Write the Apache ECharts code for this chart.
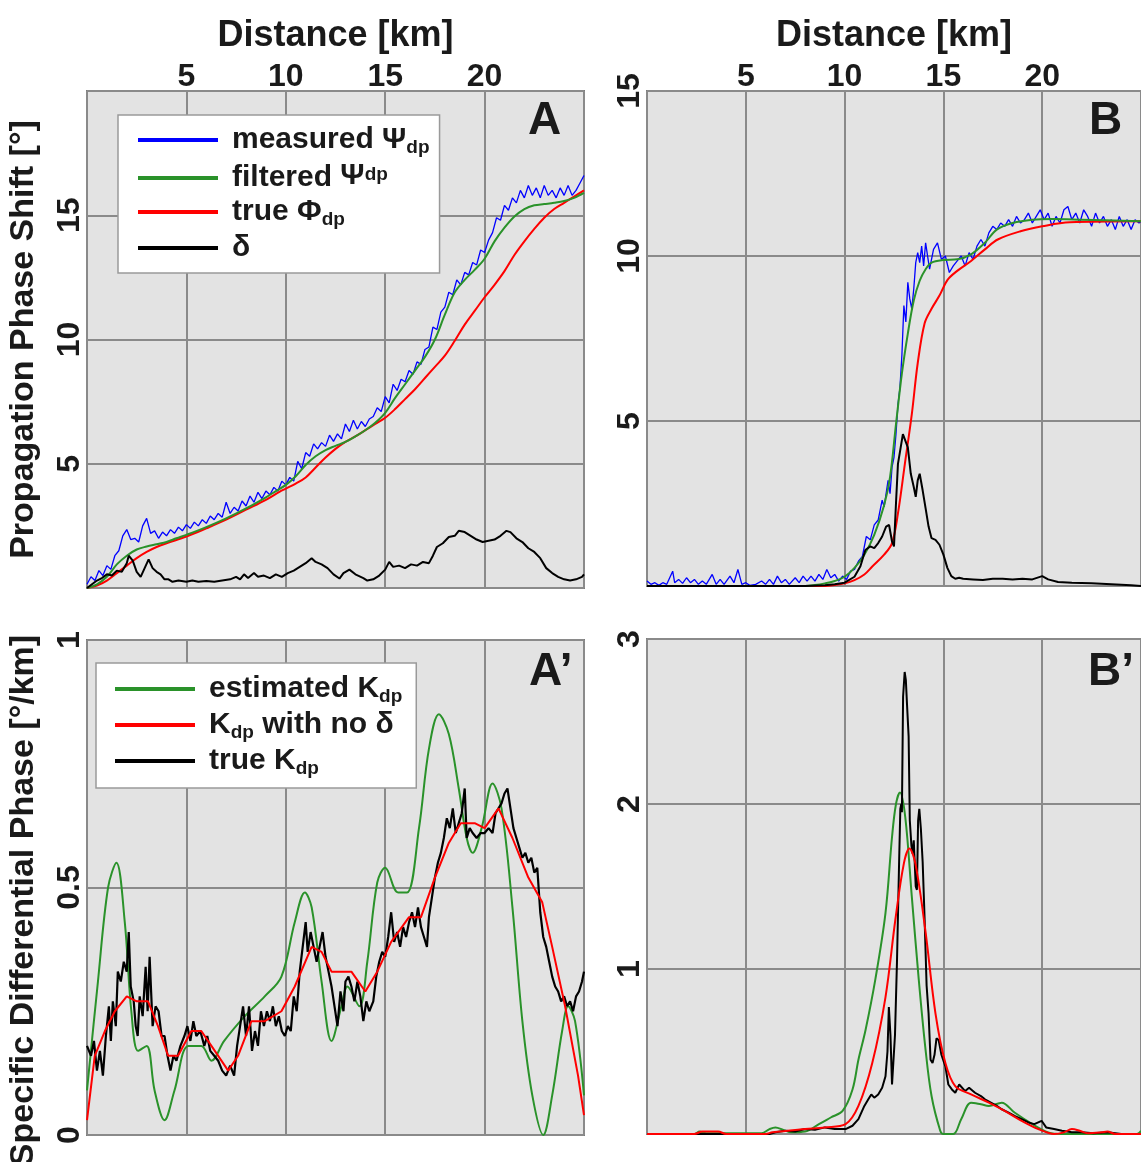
<!DOCTYPE html>
<html><head><meta charset="utf-8">
<script src="https://cdn.jsdelivr.net/npm/echarts@6/dist/echarts.min.js"></script>
<style>html,body{margin:0;padding:0;background:#fff}#c{width:1141px;height:1162px}</style>
</head><body><div id="c"></div>
<script>
// ---------- Panel A (Ψdp, Φdp, δ) ----------
const aMeasured = [[0,0.15],[0.2,0.45],[0.4,0.3],[0.6,0.7],[0.8,0.5],[1,0.9],[1.2,0.75],[1.4,1.3],[1.6,1.5],[1.8,2.1],[2,2.35],[2.2,1.95],[2.4,2.0],[2.6,1.85],[2.8,2.5],[3,2.8],[3.2,2.2],[3.4,2.3],[3.6,2.0],[3.8,2.25],[4,2.1],[4.2,2.35],[4.4,2.2],[4.6,2.45],[4.8,2.3],[5,2.55],[5.2,2.4],[5.4,2.65],[5.6,2.5],[5.8,2.75],[6,2.6],[6.2,2.9],[6.4,2.75],[6.6,3.0],[6.8,2.85],[7,3.45],[7.2,3.0],[7.4,3.25],[7.6,3.1],[7.8,3.5],[8,3.3],[8.2,3.7],[8.4,3.45],[8.6,3.85],[8.8,3.6],[9,3.9],[9.2,3.75],[9.4,4.05],[9.6,3.9],[9.8,4.3],[10,4.15],[10.2,4.45],[10.4,4.3],[10.6,5.1],[10.8,4.8],[11,5.45],[11.2,5.3],[11.4,5.8],[11.6,5.6],[11.8,5.85],[12,5.7],[12.2,6.15],[12.4,5.9],[12.6,6.2],[12.8,6.0],[13,6.6],[13.2,6.3],[13.4,6.75],[13.6,6.4],[13.8,6.7],[14,6.5],[14.2,6.8],[14.4,6.9],[14.6,7.25],[14.8,7.1],[15,7.7],[15.2,7.45],[15.4,8.2],[15.6,7.95],[15.8,8.4],[16,8.3],[16.2,8.75],[16.4,8.6],[16.6,9.1],[16.8,9.0],[17,9.6],[17.2,9.7],[17.4,10.5],[17.6,10.4],[17.8,11.1],[18,11.3],[18.2,11.9],[18.4,11.8],[18.6,12.4],[18.8,12.2],[19,12.7],[19.2,12.6],[19.4,13.1],[19.6,13.0],[19.8,13.6],[20,13.5],[20.2,14.0],[20.4,14.3],[20.6,14.9],[20.8,14.8],[21,15.4],[21.2,15.2],[21.4,15.7],[21.6,15.5],[21.8,16.0],[22,15.7],[22.2,16.2],[22.4,15.8],[22.6,16.1],[22.8,15.7],[23,16.2],[23.2,15.8],[23.4,16.0],[23.6,15.7],[23.8,16.1],[24,15.8],[24.2,16.2],[24.4,15.8],[24.6,16.0],[24.8,16.3],[25,16.6]];
const aFiltered = [[0,0],[0.5,0.15],[1,0.45],[1.5,0.95],[2,1.3],[2.5,1.55],[3,1.67],[3.5,1.76],[4,1.85],[4.5,2.0],[5,2.14],[6,2.45],[7,2.8],[8,3.2],[9,3.65],[9.5,3.9],[10,4.15],[10.5,4.5],[11,4.95],[11.5,5.3],[12,5.55],[12.5,5.72],[13,5.88],[13.5,6.1],[14,6.35],[14.5,6.65],[15,7.05],[15.5,7.65],[16,8.2],[16.5,8.75],[17,9.3],[17.5,10.0],[18,11.0],[18.5,11.9],[19,12.4],[19.5,12.8],[20,13.25],[20.5,13.95],[21,14.5],[21.5,14.95],[22,15.25],[22.5,15.4],[23,15.45],[23.5,15.5],[24,15.57],[24.5,15.7],[25,15.9]];
const aTrue = [[0,0],[0.5,0.1],[1,0.3],[1.5,0.6],[2,0.9],[2.5,1.2],[3,1.45],[3.5,1.65],[4,1.8],[5,2.07],[6,2.4],[7,2.75],[8,3.15],[9,3.55],[9.7,3.88],[10,4.0],[10.5,4.2],[11,4.45],[11.5,4.85],[12,5.25],[12.5,5.6],[13,5.88],[13.5,6.1],[14,6.35],[14.5,6.6],[15,6.85],[15.5,7.2],[16,7.6],[16.5,8.0],[17,8.45],[17.5,8.9],[18,9.35],[18.5,9.95],[19,10.6],[19.5,11.15],[20,11.7],[20.5,12.2],[21,12.75],[21.5,13.4],[22,13.95],[22.5,14.45],[23,14.9],[23.5,15.25],[24,15.5],[24.5,15.75],[25,16.0]];
const aDelta = [[0,0],[0.25,0.15],[0.5,0.3],[0.75,0.4],[1,0.55],[1.25,0.5],[1.5,0.7],[1.75,0.65],[2,1.0],[2.1,1.3],[2.3,1.1],[2.5,0.65],[2.7,0.45],[2.9,0.8],[3,0.75],[3.1,1.15],[3.3,0.8],[3.5,0.65],[3.7,0.55],[3.9,0.35],[4.1,0.35],[4.3,0.25],[4.6,0.3],[5,0.25],[5.3,0.3],[5.6,0.25],[6,0.28],[6.4,0.25],[6.8,0.3],[7.2,0.35],[7.5,0.45],[7.7,0.35],[7.9,0.55],[8.1,0.4],[8.4,0.6],[8.6,0.45],[8.9,0.5],[9.2,0.4],[9.5,0.55],[9.8,0.45],[10.1,0.6],[10.4,0.7],[10.7,0.85],[11,1.0],[11.3,1.2],[11.5,1.05],[11.8,0.95],[12.1,0.8],[12.4,0.55],[12.7,0.38],[12.9,0.6],[13.2,0.74],[13.5,0.55],[13.9,0.4],[14.1,0.3],[14.4,0.35],[14.7,0.5],[15,0.74],[15.2,1.05],[15.4,0.85],[15.7,0.9],[16,0.8],[16.3,0.95],[16.6,0.9],[16.9,1.05],[17.2,1.0],[17.4,1.3],[17.6,1.65],[17.9,1.8],[18.2,2.05],[18.5,2.1],[18.7,2.3],[19,2.25],[19.3,2.1],[19.6,1.95],[19.9,1.85],[20.2,1.9],[20.5,1.95],[20.8,2.1],[21.1,2.3],[21.3,2.25],[21.6,2.0],[21.9,1.85],[22.2,1.6],[22.5,1.45],[22.8,1.2],[23.1,0.8],[23.4,0.6],[23.7,0.45],[24,0.35],[24.3,0.3],[24.6,0.35],[24.9,0.45],[25,0.55]];

// ---------- Panel B ----------
const bMeasured = [[0,0.15],[0.2,0.05],[0.4,0.1],[0.6,0.02],[0.8,0.1],[1,0.05],[1.3,0.45],[1.4,0.1],[1.6,0.2],[1.8,0.08],[2,0.25],[2.2,0.1],[2.4,0.2],[2.6,0.05],[2.8,0.15],[3,0.05],[3.3,0.35],[3.5,0.05],[3.7,0.2],[3.9,0.05],[4.2,0.3],[4.4,0.1],[4.6,0.5],[4.8,0.05],[5,0.1],[5.2,0.02],[5.5,0.05],[5.8,0.15],[6,0.05],[6.2,0.2],[6.4,0.05],[6.6,0.3],[6.8,0.1],[7,0.2],[7.2,0.05],[7.5,0.25],[7.7,0.1],[7.9,0.3],[8.1,0.15],[8.3,0.3],[8.5,0.15],[8.7,0.35],[8.9,0.2],[9.1,0.5],[9.3,0.25],[9.5,0.35],[9.7,0.15],[9.9,0.3],[10.1,0.2],[10.3,0.45],[10.5,0.5],[10.7,0.75],[10.9,0.9],[11.1,1.5],[11.3,1.4],[11.5,1.85],[11.7,2.0],[11.9,2.6],[12,2.4],[12.2,3.2],[12.3,2.8],[12.4,3.6],[12.5,3.9],[12.6,4.6],[12.7,5.5],[12.8,6.0],[12.9,7.0],[13,8.5],[13.1,8.0],[13.2,9.2],[13.3,8.7],[13.4,8.4],[13.5,9.0],[13.6,9.8],[13.7,10.1],[13.8,9.8],[13.9,10.3],[14,9.7],[14.1,10.4],[14.3,9.6],[14.5,10.2],[14.7,10.4],[14.9,9.9],[15.1,10.0],[15.3,9.5],[15.5,9.7],[15.7,9.85],[15.9,10.0],[16.1,9.7],[16.3,10.1],[16.5,9.9],[16.7,10.3],[16.9,10.5],[17.1,10.3],[17.3,10.7],[17.5,10.9],[17.7,10.8],[17.9,11.0],[18.1,10.9],[18.3,11.1],[18.5,10.9],[18.7,11.2],[18.9,11.0],[19.1,11.1],[19.3,11.3],[19.5,11.0],[19.7,11.2],[19.9,11.4],[20.1,11.1],[20.3,11.3],[20.5,10.9],[20.7,11.2],[20.9,11.0],[21.1,11.4],[21.3,11.5],[21.5,11.1],[21.7,11.3],[21.9,11.0],[22.1,11.4],[22.3,11.2],[22.5,10.9],[22.7,11.3],[22.9,11.0],[23.1,11.2],[23.3,10.9],[23.5,11.1],[23.7,10.8],[23.9,11.2],[24.1,10.9],[24.3,11.1],[24.5,10.8],[24.7,11.1],[24.9,11.0],[25,11.05]];
const bFiltered = [[0,0],[8,0],[8.5,0.03],[9,0.08],[9.5,0.15],[10,0.28],[10.5,0.55],[11,0.95],[11.5,1.55],[12,2.45],[12.3,3.3],[12.6,4.9],[12.9,6.44],[13.2,7.65],[13.5,8.65],[13.8,9.25],[14.1,9.6],[14.4,9.8],[15,9.88],[15.7,9.9],[16.4,10.05],[17.1,10.4],[17.7,10.8],[18.5,11.0],[19.5,11.1],[20.5,11.12],[22,11.1],[25,11.05]];
const bTrue = [[0,0],[9,0],[9.5,0.03],[10,0.08],[10.5,0.18],[11,0.35],[11.4,0.59],[12,0.95],[12.4,1.3],[12.7,2.2],[13.05,3.7],[13.4,5.2],[13.7,6.75],[14.05,7.96],[14.4,8.4],[14.8,8.8],[15.2,9.27],[15.7,9.55],[16.4,9.85],[17.1,10.2],[17.75,10.5],[18.9,10.75],[20,10.9],[21.4,11.02],[25,11.05]];
const bDelta = [[0,0],[8,0],[9,0.02],[9.5,0.05],[10,0.1],[10.5,0.28],[10.8,0.6],[11.05,1.09],[11.3,1.2],[11.5,1.15],[11.7,1.3],[11.9,1.5],[12.1,1.8],[12.25,1.85],[12.4,1.35],[12.5,1.2],[12.6,2.5],[12.7,3.7],[12.8,3.7],[12.95,4.6],[13.05,4.65],[13.2,4.2],[13.35,3.4],[13.5,3.0],[13.6,2.7],[13.7,3.2],[13.8,3.4],[13.95,2.9],[14.1,2.35],[14.25,1.8],[14.4,1.45],[14.6,1.4],[14.8,1.25],[15,0.95],[15.2,0.55],[15.4,0.3],[15.6,0.22],[15.8,0.25],[16,0.22],[16.5,0.2],[17,0.18],[17.5,0.22],[18,0.22],[18.5,0.2],[19,0.22],[19.5,0.2],[20,0.3],[20.3,0.2],[20.8,0.12],[21.5,0.1],[22.5,0.08],[23.5,0.05],[24.5,0.02],[25,0]];

// ---------- Panel A' (Kdp) ----------
const apEstimated = [[0,0.09],[0.55,0.31],[1.06,0.5],[1.48,0.55],[1.9,0.43],[2.23,0.25],[2.57,0.17],[3.0,0.18],[3.4,0.09],[3.9,0.03],[4.4,0.09],[5.1,0.18],[5.75,0.18],[6.26,0.15],[6.9,0.19],[7.94,0.24],[8.94,0.28],[9.78,0.32],[10.45,0.43],[10.96,0.49],[11.3,0.46],[11.8,0.31],[12.3,0.19],[12.8,0.26],[13.1,0.3],[13.7,0.26],[14.1,0.35],[14.6,0.51],[15.0,0.54],[15.65,0.49],[16.1,0.49],[16.7,0.62],[17.2,0.78],[17.7,0.85],[18.2,0.81],[18.7,0.70],[19.1,0.60],[19.4,0.57],[19.85,0.62],[20.4,0.71],[20.85,0.66],[21.4,0.46],[21.9,0.23],[22.4,0.08],[22.95,0.0],[23.4,0.08],[23.9,0.21],[24.2,0.26],[24.55,0.23],[25,0.08]];
const apNoDelta = [[0,0.03],[0.39,0.16],[0.9,0.21],[1.4,0.25],[2.0,0.28],[2.5,0.27],[3.07,0.27],[3.57,0.22],[4.08,0.16],[4.58,0.16],[5.25,0.21],[5.75,0.21],[6.43,0.17],[7.1,0.13],[7.6,0.16],[8.27,0.23],[8.94,0.23],[9.78,0.25],[10.45,0.3],[11.3,0.38],[11.8,0.37],[12.3,0.33],[13.3,0.33],[14.0,0.29],[14.6,0.33],[15.3,0.39],[16.2,0.44],[16.8,0.44],[17.5,0.52],[18.2,0.59],[18.8,0.63],[19.5,0.63],[20.0,0.62],[20.7,0.66],[21.4,0.6],[22.2,0.52],[22.9,0.47],[23.4,0.38],[24.05,0.26],[24.7,0.12],[25,0.04]];
const apTrue = [[0,0.18],[0.2,0.16],[0.35,0.19],[0.5,0.13],[0.65,0.17],[0.8,0.12],[0.95,0.2],[1.1,0.26],[1.2,0.19],[1.3,0.27],[1.45,0.22],[1.55,0.33],[1.7,0.31],[1.85,0.35],[2,0.33],[2.1,0.41],[2.2,0.3],[2.35,0.27],[2.45,0.22],[2.55,0.2],[2.65,0.28],[2.8,0.24],[2.95,0.34],[3.05,0.25],[3.15,0.36],[3.3,0.22],[3.45,0.26],[3.6,0.25],[3.75,0.2],[3.9,0.2],[4.05,0.16],[4.2,0.13],[4.35,0.16],[4.5,0.15],[4.7,0.18],[4.9,0.2],[5.05,0.22],[5.2,0.19],[5.35,0.23],[5.5,0.2],[5.7,0.21],[5.9,0.18],[6.05,0.2],[6.2,0.17],[6.4,0.16],[6.6,0.15],[6.8,0.13],[7,0.12],[7.2,0.14],[7.4,0.12],[7.55,0.18],[7.7,0.22],[7.85,0.26],[8,0.2],[8.15,0.26],[8.3,0.17],[8.45,0.21],[8.6,0.18],[8.75,0.25],[8.9,0.22],[9.05,0.25],[9.2,0.23],[9.35,0.26],[9.5,0.22],[9.65,0.24],[9.8,0.21],[9.95,0.2],[10.1,0.22],[10.25,0.21],[10.4,0.28],[10.55,0.25],[10.7,0.33],[10.85,0.38],[11,0.43],[11.1,0.37],[11.25,0.41],[11.4,0.38],[11.55,0.35],[11.7,0.38],[11.85,0.41],[12,0.36],[12.15,0.33],[12.3,0.3],[12.45,0.26],[12.6,0.22],[12.75,0.29],[12.9,0.25],[13,0.31],[13.15,0.32],[13.3,0.3],[13.45,0.27],[13.6,0.31],[13.75,0.28],[13.9,0.23],[14.05,0.27],[14.2,0.25],[14.4,0.27],[14.55,0.32],[14.7,0.35],[14.85,0.37],[15,0.36],[15.15,0.4],[15.3,0.45],[15.45,0.39],[15.6,0.41],[15.75,0.38],[15.9,0.42],[16.05,0.4],[16.2,0.43],[16.35,0.45],[16.5,0.42],[16.65,0.46],[16.8,0.42],[16.95,0.4],[17.1,0.38],[17.2,0.44],[17.35,0.48],[17.5,0.52],[17.65,0.55],[17.8,0.57],[17.95,0.6],[18.1,0.64],[18.25,0.62],[18.4,0.66],[18.55,0.61],[18.7,0.63],[18.85,0.65],[19,0.7],[19.1,0.6],[19.25,0.62],[19.4,0.61],[19.6,0.6],[19.8,0.61],[20,0.61],[20.2,0.62],[20.4,0.61],[20.55,0.65],[20.7,0.66],[20.85,0.67],[21,0.69],[21.15,0.7],[21.3,0.66],[21.45,0.62],[21.6,0.6],[21.75,0.58],[21.9,0.56],[22.05,0.57],[22.2,0.55],[22.35,0.56],[22.5,0.53],[22.65,0.54],[22.8,0.45],[22.95,0.4],[23.1,0.38],[23.25,0.35],[23.4,0.32],[23.55,0.3],[23.7,0.29],[23.85,0.27],[24,0.28],[24.15,0.26],[24.3,0.27],[24.45,0.25],[24.6,0.28],[24.75,0.29],[24.9,0.31],[25,0.33]];

// ---------- Panel B' ----------
const bpEstimated = [[0,0],[2.4,0],[2.66,0.015],[3.0,0.005],[5.8,0.005],[6.2,0.03],[6.5,0.04],[6.9,0.025],[7.3,0.01],[8.0,0.015],[8.7,0.06],[9.3,0.1],[9.9,0.14],[10.4,0.27],[10.7,0.45],[11.06,0.63],[11.56,0.94],[12.07,1.34],[12.4,1.8],[12.6,2.0],[12.8,2.07],[13.07,1.92],[13.4,1.44],[13.75,0.94],[14.08,0.53],[14.4,0.23],[14.84,0.02],[15.0,0],[15.5,0],[15.9,0.09],[16.4,0.19],[16.9,0.18],[17.3,0.17],[17.95,0.19],[18.6,0.13],[19.5,0.06],[20.3,0.01],[21,0],[24.8,0],[25,0.02]];
const bpNoDelta = [[0,0],[2.4,0],[2.8,0.015],[3.6,0.015],[4.0,0],[6.0,0],[6.35,0.01],[8.0,0.03],[9.0,0.04],[10.05,0.06],[10.7,0.17],[11.4,0.43],[12.07,0.83],[12.57,1.3],[13.0,1.64],[13.28,1.73],[13.58,1.64],[14.08,1.24],[14.6,0.73],[15.1,0.43],[15.6,0.29],[16.4,0.24],[17.3,0.19],[18.1,0.14],[18.96,0.08],[19.8,0.03],[20.6,0],[21.1,0.01],[21.5,0.03],[21.9,0.02],[22.3,0.005],[23.0,0.01],[23.3,0.015],[23.7,0],[25,0]];
const bpTrue = [[0,0],[6.2,0],[6.5,0.01],[7,0.02],[7.5,0.015],[8,0.03],[8.5,0.025],[9,0.04],[9.5,0.03],[10.05,0.03],[10.4,0.05],[10.7,0.09],[11,0.17],[11.2,0.21],[11.35,0.24],[11.5,0.22],[11.7,0.24],[11.9,0.28],[12.07,0.35],[12.17,0.5],[12.24,0.77],[12.32,0.6],[12.4,0.3],[12.45,0.31],[12.55,0.6],[12.65,1.04],[12.75,1.6],[12.82,1.97],[12.87,2.0],[12.9,1.95],[12.96,2.65],[13.04,2.8],[13.1,2.75],[13.16,2.6],[13.24,2.41],[13.3,1.9],[13.38,1.75],[13.44,1.7],[13.5,1.78],[13.6,1.5],[13.66,1.48],[13.72,1.9],[13.78,1.97],[13.86,1.85],[13.95,1.65],[14.05,1.3],[14.15,0.9],[14.25,0.73],[14.35,0.45],[14.45,0.43],[14.55,0.48],[14.65,0.58],[14.76,0.57],[14.9,0.48],[15.1,0.41],[15.25,0.3],[15.43,0.27],[15.6,0.25],[15.8,0.3],[16.1,0.26],[16.3,0.28],[16.6,0.25],[16.9,0.23],[17.1,0.21],[17.4,0.19],[17.7,0.17],[17.95,0.15],[18.3,0.13],[18.6,0.11],[18.96,0.09],[19.3,0.07],[19.6,0.06],[19.97,0.08],[20.2,0.04],[20.6,0.03],[21,0.02],[21.5,0.01],[22,0.01],[22.6,0.005],[23.3,0.01],[24,0],[25,0]];

// ---------- Axis / legend texts ----------
const xTitle = 'Distance [km]';
const yTitleTop = 'Propagation Phase Shift [°]';
const yTitleBottom = 'Specific Differential Phase [°/km]';
const panelLetters = ['A', 'B', 'A’', 'B’'];
const legendTop = ['measured Ψdp', 'filtered Ψdp', 'true Φdp', 'δ'];
const legendBottom = ['estimated Kdp', 'Kdp with no δ', 'true Kdp'];

const FONT = '"Liberation Sans", Arial, Helvetica, sans-serif';
const TXT = '#1a1a1a';
const C_BLUE = '#0000ff', C_GREEN = '#2a922a', C_RED = '#ff0000', C_BLACK = '#000000';

const grids = [
  {left: 87, top: 91, width: 497, height: 497},
  {left: 647, top: 91, width: 494, height: 495},
  {left: 87, top: 640, width: 497, height: 495},
  {left: 647, top: 639, width: 494, height: 495}
].map(g => Object.assign(g, {show: true, backgroundColor: '#e3e3e3', borderColor: '#7a7a7a', borderWidth: 2,
  containLabel: false, outerBoundsMode: 'none'}));

const split = {show: true, lineStyle: {color: '#8a8a8a', width: 2}};
const tickLabel = {fontFamily: FONT, fontSize: 32, fontWeight: 'bold', color: TXT};

function xAxis(gi, top) {
  return {
    type: 'value', gridIndex: gi, min: 0, max: 25, interval: 5,
    position: 'top',
    axisLine: {show: false}, axisTick: {show: false}, splitLine: split,
    axisLabel: top ? Object.assign({show: true, margin: -2, showMinLabel: true, showMaxLabel: true,
      formatter: v => (v === 0 || v === 25) ? '' : String(v)}, tickLabel) : {show: false},
    name: top ? xTitle : '', nameLocation: 'middle', nameGap: 37,
    nameTextStyle: {fontFamily: FONT, fontSize: 36, fontWeight: 'bold', color: TXT}
  };
}
function yAxis(gi, max, interval, hide, name, namePad) {
  return {
    type: 'value', gridIndex: gi, min: 0, max: max, interval: interval,
    axisLine: {show: false}, axisTick: {show: false}, splitLine: split,
    axisLabel: Object.assign({show: true, rotate: 90, margin: 1, showMinLabel: true, showMaxLabel: true,
      formatter: v => hide.indexOf(v) >= 0 ? '' : String(v)}, tickLabel),
    name: name || '', nameLocation: 'middle', nameRotate: 90, nameGap: 46,
    nameTextStyle: {fontFamily: FONT, fontSize: 34, fontWeight: 'bold', color: TXT, padding: namePad || 0}
  };
}

function line(name, data, color, width, gi, smooth) {
  return {type: 'line', name: name, data: data, xAxisIndex: gi, yAxisIndex: gi,
    showSymbol: false, symbol: 'none', smooth: smooth ? 0.35 : false,
    lineStyle: {color: color, width: width}, itemStyle: {color: color}, z: 3};
}

const rich = {
  n: {fontFamily: FONT, fontSize: 30, fontWeight: 'bold', color: TXT, lineHeight: 34},
  s: {fontFamily: FONT, fontSize: 19, fontWeight: 'bold', color: TXT, lineHeight: 24, verticalAlign: 'bottom'},
  u: {fontFamily: FONT, fontSize: 30, fontWeight: 'bold', color: TXT, lineHeight: 22, verticalAlign: 'top'},
  us: {fontFamily: FONT, fontSize: 19, fontWeight: 'bold', color: TXT, lineHeight: 20, verticalAlign: 'top', padding: [4, 0, 0, 0]}
};
const legendFmt = {
  'measured Ψdp': '{n|measured Ψ}{s|dp}',
  'filtered Ψdp': '{n|filtered }{u|Ψ}{us|dp}',
  'true Φdp': '{n|true Φ}{s|dp}',
  'δ': '{n|δ}',
  'estimated Kdp': '{n|estimated K}{s|dp}',
  'Kdp with no δ': '{n|K}{s|dp}{n| with no δ}',
  'true Kdp': '{n|true K}{s|dp}'
};
function legend(data, left, top, pad) {
  return {
    data: data, orient: 'vertical', left: left, top: top, icon: 'rect',
    itemWidth: 80, itemHeight: 4, itemGap: 4, selectedMode: false,
    backgroundColor: '#ffffff', borderColor: '#9a9a9a', borderWidth: 1.5, borderRadius: 0,
    padding: pad,
    formatter: n => legendFmt[n] || n,
    textStyle: {rich: rich, padding: [0, 0, 0, 9], fontFamily: FONT, fontSize: 30, fontWeight: 'bold', color: TXT}
  };
}

const letterPos = [[528, 98], [1089, 98], [529, 649], [1088, 649]];
const titles = panelLetters.map((t, i) => ({
  text: t, left: letterPos[i][0], top: letterPos[i][1], padding: 0,
  textStyle: {fontFamily: FONT, fontSize: 46, fontWeight: 'bold', color: TXT}
}));

const option = {
  animation: false,
  backgroundColor: '#ffffff',
  title: titles,
  grid: grids,
  xAxis: [xAxis(0, true), xAxis(1, true), xAxis(2, false), xAxis(3, false)],
  yAxis: [
    yAxis(0, 20, 5, [0, 20], yTitleTop),
    yAxis(1, 15, 5, [0]),
    yAxis(2, 1, 0.5, [], yTitleBottom, [0, 26, 0, 0]),
    yAxis(3, 3, 1, [0])
  ],
  legend: [
    legend(legendTop, 118, 115, [10, 10, 10, 20]),
    legend(legendBottom, 96, 663, [11, 14, 10, 19])
  ],
  series: [
    line(legendTop[0], aMeasured, C_BLUE, 1.3, 0, false),
    line(legendTop[2], aTrue, C_RED, 2, 0, true),
    line(legendTop[1], aFiltered, C_GREEN, 2, 0, true),
    line(legendTop[3], aDelta, C_BLACK, 2, 0, false),
    line(legendTop[0], bMeasured, C_BLUE, 1.3, 1, false),
    line(legendTop[2], bTrue, C_RED, 2, 1, true),
    line(legendTop[1], bFiltered, C_GREEN, 2, 1, true),
    line(legendTop[3], bDelta, C_BLACK, 2, 1, false),
    line(legendBottom[0], apEstimated, C_GREEN, 2, 2, true),
    line(legendBottom[2], apTrue, C_BLACK, 2.2, 2, false),
    line(legendBottom[1], apNoDelta, C_RED, 2, 2, false),
    line(legendBottom[0], bpEstimated, C_GREEN, 2, 3, true),
    line(legendBottom[2], bpTrue, C_BLACK, 2, 3, false),
    line(legendBottom[1], bpNoDelta, C_RED, 2, 3, true)
  ]
};
const chart = echarts.init(document.getElementById('c'), null, {renderer: 'canvas'});
chart.setOption(option);
</script>
</body></html>
